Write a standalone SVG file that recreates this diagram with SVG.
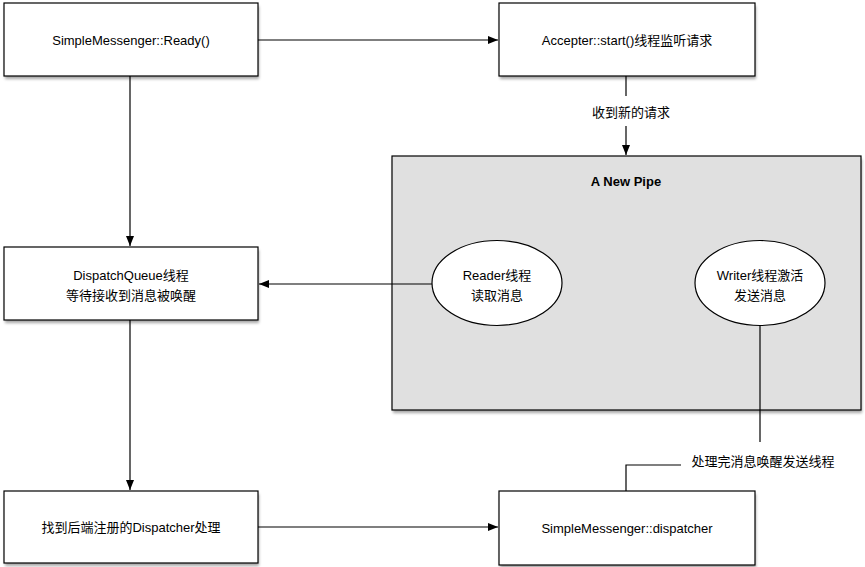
<svg xmlns="http://www.w3.org/2000/svg" width="865" height="567" viewBox="0 0 865 567">
<style>
text{font-family:"Liberation Sans","Noto Sans CJK SC",sans-serif;font-size:13px;fill:#000;text-anchor:middle}
.box{fill:#fff;stroke:#000;stroke-width:1.2}
.shadow{fill:#000;opacity:0.35;filter:url(#blur)}
.conn{fill:none;stroke:#000;stroke-width:1.2}
</style>
<defs>
<filter id="blur" x="-10%" y="-10%" width="120%" height="130%"><feGaussianBlur stdDeviation="1.5"/></filter>
<marker id="arr" viewBox="0 0 10 10" refX="10" refY="5" markerWidth="10" markerHeight="10" markerUnits="userSpaceOnUse" orient="auto"><path d="M0,1 L10,5 L0,9 Z" fill="#000"/></marker>
</defs>
<g id="pipe">
<rect x="393" y="159" width="469" height="254" class="shadow"/>
<rect x="392" y="156" width="469" height="254" fill="#e0e0e0" stroke="#000" stroke-width="1.2"/>
<text x="626" y="186" font-weight="bold">A New Pipe</text>
</g>
<g id="ready">
<rect x="5" y="6" width="254" height="73" class="shadow"/>
<rect x="4" y="3" width="254" height="73" class="box"/>
<text x="131" y="45">SimpleMessenger::Ready()</text>
</g>
<g id="accepter">
<rect x="500" y="6" width="256" height="73" class="shadow"/>
<rect x="499" y="3" width="256" height="73" class="box"/>
<text x="627" y="45">Accepter::start()线程监听请求</text>
</g>
<g id="dispatchqueue">
<rect x="5" y="250" width="254" height="73" class="shadow"/>
<rect x="4" y="247" width="254" height="73" class="box"/>
<text x="131" y="280">DispatchQueue线程</text>
<text x="131" y="300">等待接收到消息被唤醒</text>
</g>
<g id="reader">
<ellipse cx="497" cy="283" rx="65" ry="42.5" fill="#fff" stroke="#000" stroke-width="1.2"/>
<text x="497" y="280">Reader线程</text>
<text x="497" y="300">读取消息</text>
</g>
<g id="writer">
<ellipse cx="760" cy="283" rx="65" ry="42.5" fill="#fff" stroke="#000" stroke-width="1.2"/>
<text x="760" y="280">Writer线程激活</text>
<text x="760" y="300">发送消息</text>
</g>
<g id="finddispatcher">
<rect x="5" y="494" width="254" height="72" class="shadow"/>
<rect x="4" y="491" width="254" height="72" class="box"/>
<text x="131" y="532">找到后端注册的Dispatcher处理</text>
</g>
<g id="dispatcher">
<rect x="500" y="494" width="256" height="74" class="shadow"/>
<rect x="499" y="491" width="256" height="74" class="box"/>
<text x="627" y="533">SimpleMessenger::dispatcher</text>
</g>
<g id="connectors">
<line x1="258" y1="40" x2="498" y2="40" class="conn" marker-end="url(#arr)"/>
<line x1="130" y1="76" x2="130" y2="246" class="conn" marker-end="url(#arr)"/>
<line x1="626" y1="76" x2="626" y2="96" class="conn"/>
<text x="631" y="117">收到新的请求</text>
<line x1="626" y1="126" x2="626" y2="155" class="conn" marker-end="url(#arr)"/>
<line x1="432" y1="284" x2="259" y2="284" class="conn" marker-end="url(#arr)"/>
<line x1="130" y1="320" x2="130" y2="490" class="conn" marker-end="url(#arr)"/>
<line x1="258" y1="527" x2="498" y2="527" class="conn" marker-end="url(#arr)"/>
<line x1="760" y1="326" x2="760" y2="442" class="conn"/>
<text x="763" y="466">处理完消息唤醒发送线程</text>
<polyline points="681,465 626,465 626,491" class="conn"/>
</g>
</svg>
